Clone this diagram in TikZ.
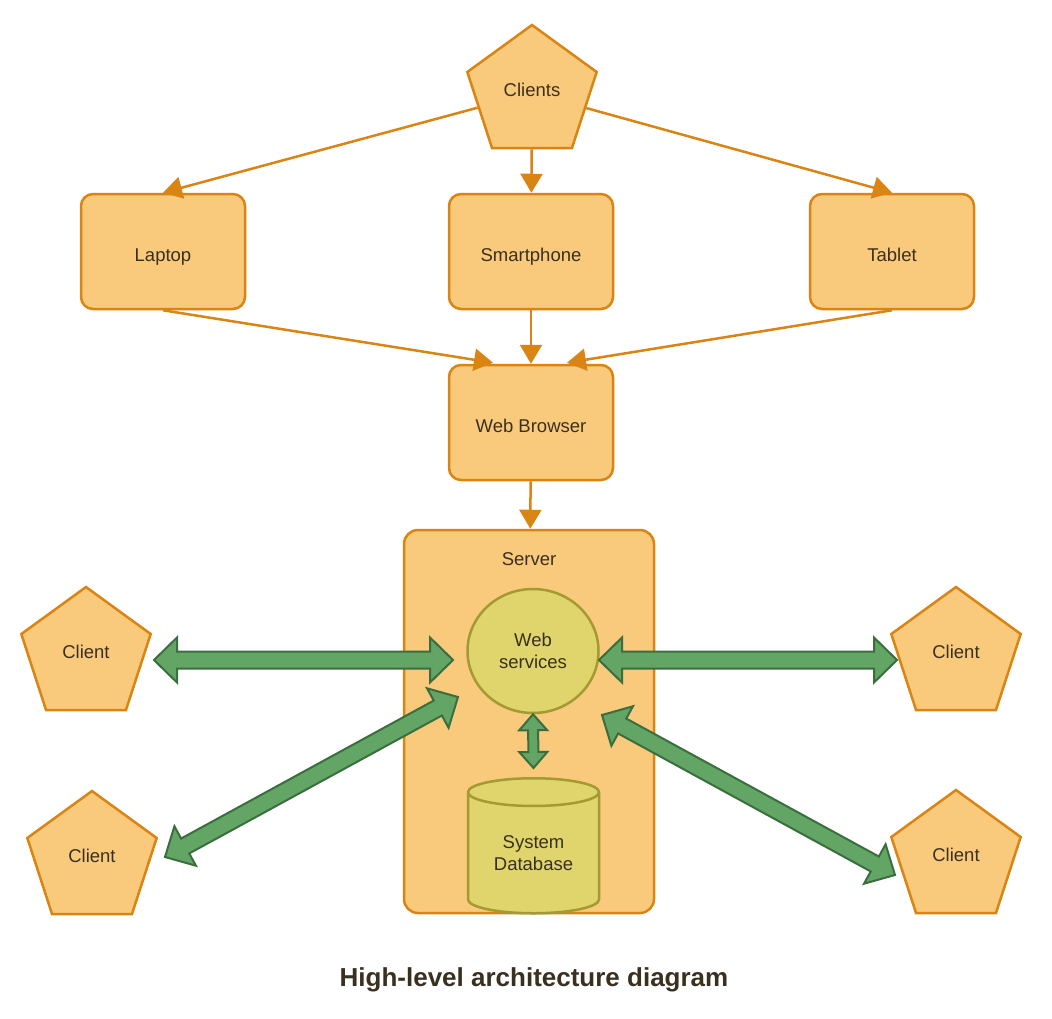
\documentclass[tikz,border=0pt]{standalone}
\usepackage{fontspec}
\setmainfont{Liberation Sans}
\usetikzlibrary{shapes.geometric,arrows.meta,calc}

\definecolor{orfill}{HTML}{F9C97C}
\definecolor{ordraw}{HTML}{D98413}
\definecolor{grfill}{HTML}{63A565}
\definecolor{grdraw}{HTML}{3B6E3F}
\definecolor{yefill}{HTML}{E0D46C}
\definecolor{yedraw}{HTML}{A39A32}
\definecolor{txt}{HTML}{3A301F}

% fat two-headed arrow: from, to, shaft half width, head half width, head length
\newcommand\fatarrow[5]{%
  \filldraw[fat] let \p1=($(#2)-(#1)$), \n1={atan2(\y1,\x1)}, \n2={veclen(\x1,\y1)} in
    [shift={(#1)}, rotate=\n1] (0,0) -- (#5,#4) -- (#5,#3) -- (\n2-#5,#3) -- (\n2-#5,#4)
    -- (\n2,0) -- (\n2-#5,-#4) -- (\n2-#5,-#3) -- (#5,-#3) -- (#5,-#4) -- cycle;}

\begin{document}
\begin{tikzpicture}[x=1pt, y=-1pt, font=\fontsize{18.5}{22}\selectfont, text=txt,
  box/.style={draw=ordraw, fill=orfill, line width=2.5pt, rounded corners=12pt,
    minimum width=164pt, minimum height=115pt, text height=20pt, text depth=0pt},
  penta/.style={regular polygon, regular polygon sides=5, draw=ordraw, fill=orfill,
    line width=2.5pt, minimum size=136pt, inner sep=0pt, text height=13.5pt, text depth=7pt},
  link/.style={draw=ordraw, line width=2.5pt, -{Triangle[length=19pt,width=22pt]}},
  fat/.style={draw=grdraw, fill=grfill, line width=2pt, line join=miter},
  olive/.style={draw=yedraw, fill=yefill, line width=2.5pt, align=center, inner sep=0pt}]

\useasboundingbox (0,0) rectangle (1052,1018);

% devices
\node[penta] (clients) at (532,93) {Clients};
\node[box] (laptop) at (163,251.5) {Laptop};
\node[box] (phone) at (531,251.5) {Smartphone};
\node[box] (tablet) at (892,251.5) {Tablet};
\node[box] (browser) at (531,422.5) {Web Browser};

\draw[link] (clients) -- (laptop.north);
\draw[link] (clients) -- (phone);
\draw[link] (clients) -- (tablet.north);
\draw[link] (laptop.south) -- ($(browser.north)+(-38,-1)$);
\draw[link] (phone) -- (browser);
\draw[link] (tablet.south) -- ($(browser.north)+(36,-1)$);

% server
\node[box, minimum width=250pt, minimum height=383pt, rounded corners=14pt] (server) at (529,721.5) {};
\node (srvtxt) at ($(server.north)+(0,30)$) {Server};
\draw[link] (browser) -- (server);

\node[olive, ellipse, minimum width=131pt, minimum height=124pt] (ws) at (533,651) {Web\\services};
\node[olive, cylinder, shape border rotate=90, aspect=0.35, minimum width=131pt,
  minimum height=135pt, anchor=north] (db) at (533.5,777) {System\\Database};

% outside clients
\node[penta] (cl1) at (86,655) {Client};
\node[penta] (cl2) at (92,859) {Client};
\node[penta] (cl3) at (956,655) {Client};
\node[penta] (cl4) at (956,858) {Client};

\coordinate (g1a) at ($(cl1)+(68,5)$);
\coordinate (g1b) at ($(ws)+(-80,9)$);
\coordinate (g2a) at ($(cl2)+(73,-2)$);
\coordinate (g2b) at ($(ws)+(-75,46)$);
\coordinate (g3a) at ($(ws)+(66,9)$);
\coordinate (g3b) at ($(cl3)+(-59,5)$);
\coordinate (g4a) at ($(ws)+(69,64)$);
\coordinate (g4b) at ($(cl4)+(-61,17)$);
\coordinate (g5a) at (ws.south);
\coordinate (g5b) at ($(db.north)+(0,-9)$);

\fatarrow{g1a}{g1b}{8.5}{22.5}{23}
\fatarrow{g2a}{g2b}{8.5}{22.5}{23}
\fatarrow{g3a}{g3b}{8.5}{22.5}{23}
\fatarrow{g4a}{g4b}{8.5}{22.5}{23}
\fatarrow{g5a}{g5b}{5}{14}{16}

\node[font=\bfseries\fontsize{26}{30}\selectfont] (title) at (534,980) {High-level architecture diagram};
\end{tikzpicture}
\end{document}
